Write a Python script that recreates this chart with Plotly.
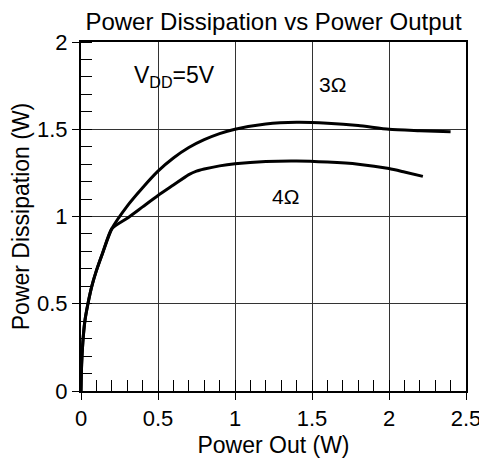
import plotly.graph_objects as go

# Data
x_3ohm = [0, 0.004, 0.012, 0.025, 0.045, 0.07, 0.1, 0.14, 0.2, 0.3, 0.4, 0.5, 0.6,
          0.7, 0.8, 0.9, 1.0, 1.2, 1.4, 1.6, 1.8, 2.0, 2.2, 2.4]
y_3ohm = [0, 0.15, 0.28, 0.4, 0.5, 0.6, 0.69, 0.79, 0.93, 1.06, 1.165, 1.26, 1.335,
          1.395, 1.44, 1.475, 1.50, 1.53, 1.54, 1.535, 1.522, 1.50, 1.492, 1.485]

x_4ohm = [0, 0.004, 0.012, 0.025, 0.045, 0.07, 0.1, 0.14, 0.2, 0.3, 0.4, 0.5, 0.6,
          0.7, 0.75, 0.8, 0.9, 1.0, 1.2, 1.4, 1.6, 1.8, 2.0, 2.1, 2.22]
y_4ohm = [0, 0.15, 0.28, 0.4, 0.5, 0.6, 0.69, 0.79, 0.93, 0.99, 1.055, 1.12, 1.18,
          1.24, 1.26, 1.272, 1.29, 1.302, 1.315, 1.318, 1.312, 1.30, 1.275, 1.255, 1.23]

x_ticks = [0, 0.5, 1, 1.5, 2, 2.5]
x_tick_labels = ["0", "0.5", "1", "1.5", "2", "2.5"]
y_ticks = [0, 0.5, 1, 1.5, 2]
y_tick_labels = ["0", "0.5", "1", "1.5", "2"]

FONT = "Arial, Liberation Sans, sans-serif"

fig = go.Figure()
fig.add_trace(go.Scatter(x=x_3ohm, y=y_3ohm, mode="lines", name="3Ω",
                         line=dict(color="black", width=3, shape="spline", smoothing=0.6)))
fig.add_trace(go.Scatter(x=x_4ohm, y=y_4ohm, mode="lines", name="4Ω",
                         line=dict(color="black", width=3, shape="spline", smoothing=0.6)))

axis_common = dict(
    showline=True, linecolor="black", linewidth=2, mirror=True,
    showgrid=True, gridcolor="#333333", gridwidth=1,
    zeroline=False, automargin=False,
    ticks="outside", ticklen=7, tickcolor="black", tickwidth=1,
    tickfont=dict(family=FONT, size=22, color="black"),
)

fig.update_xaxes(
    range=[0, 2.5], tickvals=x_ticks, ticktext=x_tick_labels,
    title=dict(text="Power Out (W)", font=dict(family=FONT, size=23, color="black"), standoff=6),
    minor=dict(dtick=0.1, tick0=0, ticks="inside", ticklen=11, tickcolor="black",
               tickwidth=1, showgrid=False),
    **axis_common,
)
fig.update_yaxes(
    range=[0, 2], tickvals=y_ticks, ticktext=y_tick_labels,
    title=dict(text="Power Dissipation (W)", font=dict(family=FONT, size=23, color="black"), standoff=2),
    minor=dict(dtick=0.1, tick0=0, ticks="inside", ticklen=11, tickcolor="black",
               tickwidth=1, showgrid=False),
    **axis_common,
)

fig.add_annotation(x=0.61, y=1.80, xref="x", yref="y", showarrow=False,
                   text="V<sub>DD</sub>=5V", font=dict(family=FONT, size=23, color="black"))
fig.add_annotation(x=1.63, y=1.754, xref="x", yref="y", showarrow=False,
                   text="3Ω", font=dict(family=FONT, size=21, color="black"))
fig.add_annotation(x=1.331, y=1.115, xref="x", yref="y", showarrow=False,
                   text="4Ω", font=dict(family=FONT, size=21, color="black"))

fig.update_layout(
    width=479, height=451,
    margin=dict(l=73, r=21, t=34, b=68),
    paper_bgcolor="white", plot_bgcolor="white",
    showlegend=False,
    title=dict(text="Power Dissipation vs Power Output", x=0.5, xref="paper",
               y=1 - 14 / 451, yref="container", yanchor="middle",
               font=dict(family=FONT, size=24, color="black")),
)

fig.write_html("out.html")
